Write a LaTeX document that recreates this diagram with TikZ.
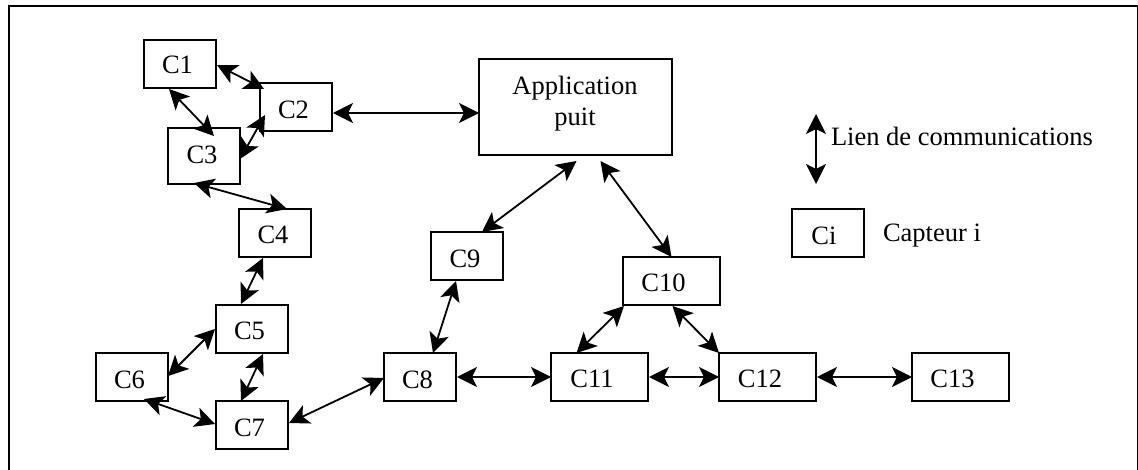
\documentclass[tikz,border=0pt]{standalone}
\usepackage{fontspec}
\setmainfont{Liberation Serif}
\usetikzlibrary{arrows.meta}
\tikzset{
  x=1pt,y=-1pt,
  lab/.style={inner sep=0pt,outer sep=0pt,font=\fontsize{26.5}{31.5}\selectfont},
  box/.style={draw=black,line width=1.8pt,fill=white,minimum width=72pt,minimum height=48pt,inner sep=0pt,outer sep=0pt},
  wide/.style={box,minimum width=97pt},
  lbl/.style={lab,anchor=base west},
  link/.style={line width=1.8pt,{Stealth[length=20pt,width=20pt,inset=5pt]}-{Stealth[length=20pt,width=20pt,inset=5pt]}},
  frameline/.style={line width=2pt,line cap=butt}
}
\begin{document}
\begin{tikzpicture}
\useasboundingbox (0,0) rectangle (1138,470);
\draw[frameline] (9,470) -- (9,6.5) -- (1137.5,6.5) -- (1137.5,470);
\node[box,label={[lab,xshift=-2.5pt,yshift=-1pt]center:C1}] (c1) at (180,64) {};
\node[box,label={[lab,xshift=-2.5pt,yshift=-3pt]center:C2}] (c2) at (296,107) {};
\node[box,minimum height=56pt,label={[lab,xshift=-2pt,yshift=1pt]center:C3}] (c3) at (204,156) {};
\node[box,label={[lab,xshift=-2pt,yshift=-2pt]center:C4}] (c4) at (275,233) {};
\node[box,label={[lab,xshift=-2.5pt,yshift=-2pt]center:C5}] (c5) at (252,329) {};
\node[box,label={[lab,xshift=-2.5pt,yshift=-3pt]center:C6}] (c6) at (132,377) {};
\node[box,label={[lab,xshift=-2.5pt,yshift=-3pt]center:C7}] (c7) at (252,425) {};
\node[box,label={[lab,xshift=-2.5pt,yshift=-3pt]center:C8}] (c8) at (420,377) {};
\node[box,label={[lab,xshift=-2pt,yshift=-3pt]center:C9}] (c9) at (467,256) {};
\node[wide,label={[lab,xshift=-8pt,yshift=-2pt]center:C10}] (c10) at (671.5,281) {};
\node[wide,label={[lab,xshift=-7.5pt,yshift=-2pt]center:C11}] (c11) at (599.5,377) {};
\node[wide,label={[lab,xshift=-7.5pt,yshift=-2pt]center:C12}] (c12) at (767.5,377) {};
\node[wide,label={[lab,xshift=-8pt,yshift=-2pt]center:C13}] (c13) at (960.5,377) {};
\node[box,minimum width=193pt,minimum height=96pt,anchor=north west] (app) at (479,59) {};
\node[lab,align=center] (apptext) at (575,103.5) {Application\\puit};
\node[box,label={[lab,xshift=-4pt,yshift=-3pt]center:Ci}] (ci) at (828,233) {};
\node[lbl] (lien) at (831,146) {Lien de communications};
\node[lbl] (capteur) at (883,241.5) {Capteur i};
\coordinate (lega) at (816,114);
\coordinate (legb) at (816,184);
\draw[link] ([shift={(1,1)}]c1.east) -- ([shift={(4,6)}]c2.north west);
\draw[link] ([shift={(-11,1)}]c1.south) -- ([shift={(10,8)}]c3.north);
\draw[link] ([shift={(5,8)}]c2.west) -- ([shift={(0,3)}]c3.east);
\draw[link] ([shift={(-10,-1)}]c3.south) -- ([shift={(12,0)}]c4.north);
\draw[link] ([shift={(-12,1)}]c4.south) -- ([shift={(-11,-1)}]c5.north);
\draw[link] ([shift={(-1,0)}]c5.west) -- ([shift={(0,-1)}]c6.east);
\draw[link] ([shift={(11,1)}]c5.south) -- ([shift={(-11,0)}]c7.north);
\draw[link] ([shift={(12,-2)}]c6.south) -- ([shift={(-1,-1)}]c7.west);
\draw[link] ([shift={(1,-2)}]c7.east) -- ([shift={(0,1)}]c8.west);
\draw[link] ([shift={(1,6)}]c2.east) -- ([shift={(0,6)}]app.west);
\draw[link] ([shift={(-11,1)}]c9.south) -- ([shift={(13,0)}]c8.north);
\draw[link] ([shift={(15,0)}]c9.north) -- ([shift={(1,6)}]app.south);
\draw[link] ([shift={(25,6)}]app.south) -- (c10.north);
\draw[link] ([shift={(1,1)}]c10.south west) -- ([shift={(-23,0)}]c11.north);
\draw[link] ([shift={(1,1)}]c10.south) -- (c12.north west);
\draw[link] ([shift={(1,0)}]c8.east) -- (c11.west);
\draw[link] ([shift={(1,0)}]c11.east) -- (c12.west);
\draw[link] ([shift={(1,0)}]c12.east) -- (c13.west);
\draw[link] (lega) -- (legb);
\end{tikzpicture}
\end{document}
